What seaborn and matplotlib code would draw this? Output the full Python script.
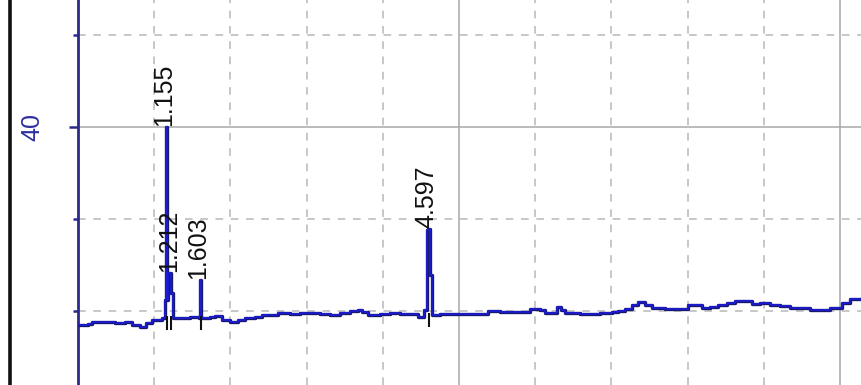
import numpy as np
import pandas as pd
import matplotlib
matplotlib.use("Agg")
import matplotlib.pyplot as plt
import matplotlib.patheffects as pe
from matplotlib.lines import Line2D
from matplotlib.ticker import MultipleLocator
import seaborn as sns

# Retention time (min) and detector signal of the recorded trace
time_min = [
    0.000, 0.131, 0.184, 0.420, 0.486, 0.617, 0.709, 0.814, 0.892, 0.971,
    1.050, 1.102, 1.130, 1.145, 1.155, 1.165, 1.175, 1.212, 1.225, 1.240,
    1.250, 1.404, 1.470, 1.585, 1.595, 1.610, 1.620, 1.732, 1.798, 1.890,
    1.995, 2.100, 2.192, 2.323, 2.415, 2.520, 2.625, 2.782, 2.913, 3.045,
    3.176, 3.307, 3.438, 3.570, 3.675, 3.727, 3.806, 3.963, 4.094, 4.226,
    4.383, 4.462, 4.535, 4.545, 4.575, 4.580, 4.597, 4.615, 4.620, 4.640,
    4.645, 4.751, 5.013, 5.276, 5.381, 5.538, 5.866, 5.932, 6.063, 6.129,
    6.234, 6.286, 6.339, 6.391, 6.588, 6.850, 7.008, 7.087, 7.178, 7.270,
    7.349, 7.441, 7.533, 7.703, 7.900, 8.005, 8.123, 8.189, 8.294, 8.399,
    8.517, 8.622, 8.753, 8.845, 8.950, 9.081, 9.213, 9.344, 9.475, 9.606,
    9.764, 9.869, 9.974, 10.026, 10.131, 10.289,
]
signal = [
    29.24, 29.29, 29.40, 29.40, 29.35, 29.40, 29.24, 29.13, 29.35, 29.51,
    29.51, 29.62, 29.62, 30.60, 40.00, 30.60, 32.07, 32.07, 30.98, 30.98,
    29.62, 29.62, 29.67, 29.62, 31.68, 31.68, 29.62, 29.67, 29.73, 29.51,
    29.40, 29.51, 29.62, 29.67, 29.78, 29.78, 29.89, 29.84, 29.89, 29.89,
    29.84, 29.78, 29.89, 30.00, 30.05, 29.95, 29.78, 29.84, 29.89, 29.84,
    29.84, 29.67, 29.67, 30.05, 30.05, 34.40, 34.45, 34.40, 31.96, 31.96,
    29.78, 29.84, 29.84, 29.84, 30.00, 29.95, 29.95, 30.11, 30.05, 29.89,
    29.89, 30.22, 30.05, 29.89, 29.84, 29.89, 29.95, 30.00, 30.11, 30.33,
    30.49, 30.33, 30.16, 30.11, 30.11, 30.33, 30.33, 30.16, 30.22, 30.33,
    30.43, 30.54, 30.54, 30.38, 30.43, 30.33, 30.27, 30.16, 30.16, 30.05,
    30.05, 30.16, 30.16, 30.43, 30.65, 30.76,
]

# Integrated peaks: retention time and apex height
peak_rt = [1.155, 1.212, 1.603, 4.597]
peak_apex = [40.00, 32.07, 31.68, 34.45]
peak_labels = ["1.155", "1.212", "1.603", "4.597"]

x_range = (0.0, 10.289)
y_range = (25.98, 46.90)

trace = pd.DataFrame({"time": time_min, "signal": signal})

sns.set_style("white")
plt.rcParams["font.family"] = ["Liberation Sans", "DejaVu Sans"]

fig = plt.figure(figsize=(8.62, 3.85), dpi=100)
ax = fig.add_axes([78 / 862, 0.0, 1 - 78 / 862, 1.0])

# grid: solid at major ticks, dashed at minor ticks
ax.xaxis.set_major_locator(MultipleLocator(5))
ax.xaxis.set_minor_locator(MultipleLocator(1))
ax.yaxis.set_major_locator(MultipleLocator(20))
ax.yaxis.set_minor_locator(MultipleLocator(5))
ax.grid(which="major", color="#a8a8a8", lw=1.1, ls="-", zorder=0)
ax.grid(which="minor", color="#b8b8b8", lw=1.1, ls=(0, (5, 5)), zorder=0)
ax.set_axisbelow(True)

sns.lineplot(
    data=trace, x="time", y="signal", ax=ax, sort=False, estimator=None,
    color="#1c1cd8", lw=1.2, zorder=3, drawstyle="steps-post",
    path_effects=[pe.Stroke(linewidth=2.4, foreground="#18186e"), pe.Normal()],
)

# peak start/stop marks below the baseline
t_arr = np.array(time_min)
s_arr = np.array(signal)
for rt in peak_rt:
    near = np.abs(t_arr - rt) < 0.06
    base = s_arr[near].min()
    ax.vlines(rt + 0.01, base - 0.65, base + 0.1, color="#111111", lw=1.5, zorder=4)

# retention time labels at each apex
for rt, apex, lab in zip(peak_rt, peak_apex, peak_labels):
    ax.text(rt - 0.02, apex + 0.05, lab, rotation=90, ha="center", va="bottom",
            fontsize=18, color="#111111", zorder=5)

ax.set_xlim(*x_range)
ax.set_ylim(*y_range)
ax.set_xlabel("")
ax.set_ylabel("")

for side in ("top", "right", "bottom"):
    ax.spines[side].set_visible(False)
ax.spines["left"].set_color("#2a2a8a")
ax.spines["left"].set_linewidth(2.0)

ax.tick_params(axis="x", which="both", bottom=False, labelbottom=False)
ax.tick_params(axis="y", which="major", length=6.5, width=1.8, color="#2a2a8a",
               pad=18, labelsize=18, labelcolor="#2e2ea0", left=True)
ax.tick_params(axis="y", which="minor", length=3.6, width=1.8, color="#2a2a8a", left=True)
for lab in ax.get_yticklabels():
    lab.set_rotation(90)
    lab.set_va("center")

# window border at the left edge
fig.add_artist(Line2D([10.5 / 862, 10.5 / 862], [0, 1], transform=fig.transFigure,
                      color="#111111", lw=2.6))

fig.savefig("out.png", dpi=100)
